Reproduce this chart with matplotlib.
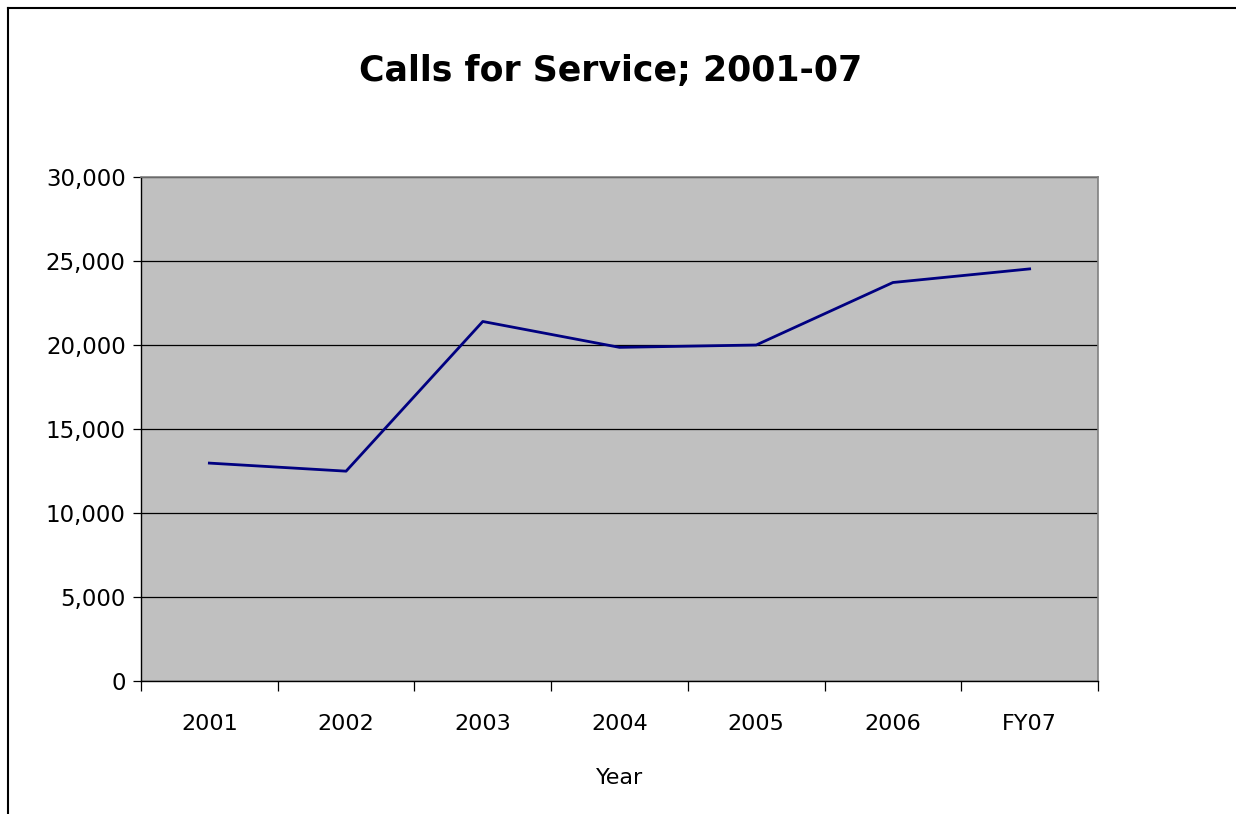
import matplotlib
matplotlib.use("Agg")
import matplotlib.pyplot as plt
from matplotlib.lines import Line2D
from matplotlib.ticker import FuncFormatter, FixedLocator

# data
years = ["2001", "2002", "2003", "2004", "2005", "2006", "FY07"]
calls = [12970, 12490, 21400, 19860, 20000, 23720, 24530]

title = "Calls for Service; 2001-07"
x_label = "Year"
y_ticks = [0, 5000, 10000, 15000, 20000, 25000, 30000]

plt.rcParams['font.family'] = ['DejaVu Sans']

fig = plt.figure(figsize=(12.36, 8.14), dpi=100)
W, H = 1236, 814
# plot area in pixels: left 141, right 1098, top 177, bottom 681
ax = fig.add_axes([141 / W, 1 - 681 / H, (1098 - 141) / W, (681 - 177) / H])
ax.set_facecolor("#C0C0C0")

xs = list(range(len(years)))
ax.plot(xs, calls, color="#000080", linewidth=2.0, zorder=3)

ax.set_xlim(-0.5, len(years) - 0.5)
ax.set_ylim(y_ticks[0], y_ticks[-1])

# y axis
ax.yaxis.set_major_locator(FixedLocator(y_ticks))
ax.yaxis.set_major_formatter(FuncFormatter(lambda v, p: f"{int(v):,}"))
ax.grid(axis="y", color="black", linewidth=0.9, zorder=1)
ax.tick_params(axis="y", direction="out", length=6, width=0.9, labelsize=16.5, pad=5, color="black")

# x axis: ticks at category boundaries, labels centered
ax.xaxis.set_major_locator(FixedLocator([i - 0.5 for i in range(len(years) + 1)]))
ax.xaxis.set_minor_locator(FixedLocator(xs))
ax.set_xticklabels([], minor=False)
ax.set_xticklabels(years, minor=True)
ax.tick_params(axis="x", which="major", direction="out", length=7, width=0.9, color="black")
ax.tick_params(axis="x", which="minor", length=0, labelsize=16, pad=24)

for s in ["top", "right"]:
    ax.spines[s].set_color("#808080")
    ax.spines[s].set_linewidth(1.2)
for s in ["left", "bottom"]:
    ax.spines[s].set_color("black")
    ax.spines[s].set_linewidth(1.0)

ax.set_xlabel(x_label, fontsize=16, labelpad=24)

fig.text(611 / W, 1 - 71 / H, title, ha="center", va="center", fontsize=25, fontweight="bold")

# outer chart border (only top and left visible in the crop)
fig.add_artist(Line2D([7.5 / W, 7.5 / W], [0, 1 - 8 / H], color="black", linewidth=1.5, transform=fig.transFigure))
fig.add_artist(Line2D([7.5 / W, 1], [1 - 8 / H, 1 - 8 / H], color="black", linewidth=1.5, transform=fig.transFigure))

fig.savefig("out.png", dpi=100, facecolor="white")
